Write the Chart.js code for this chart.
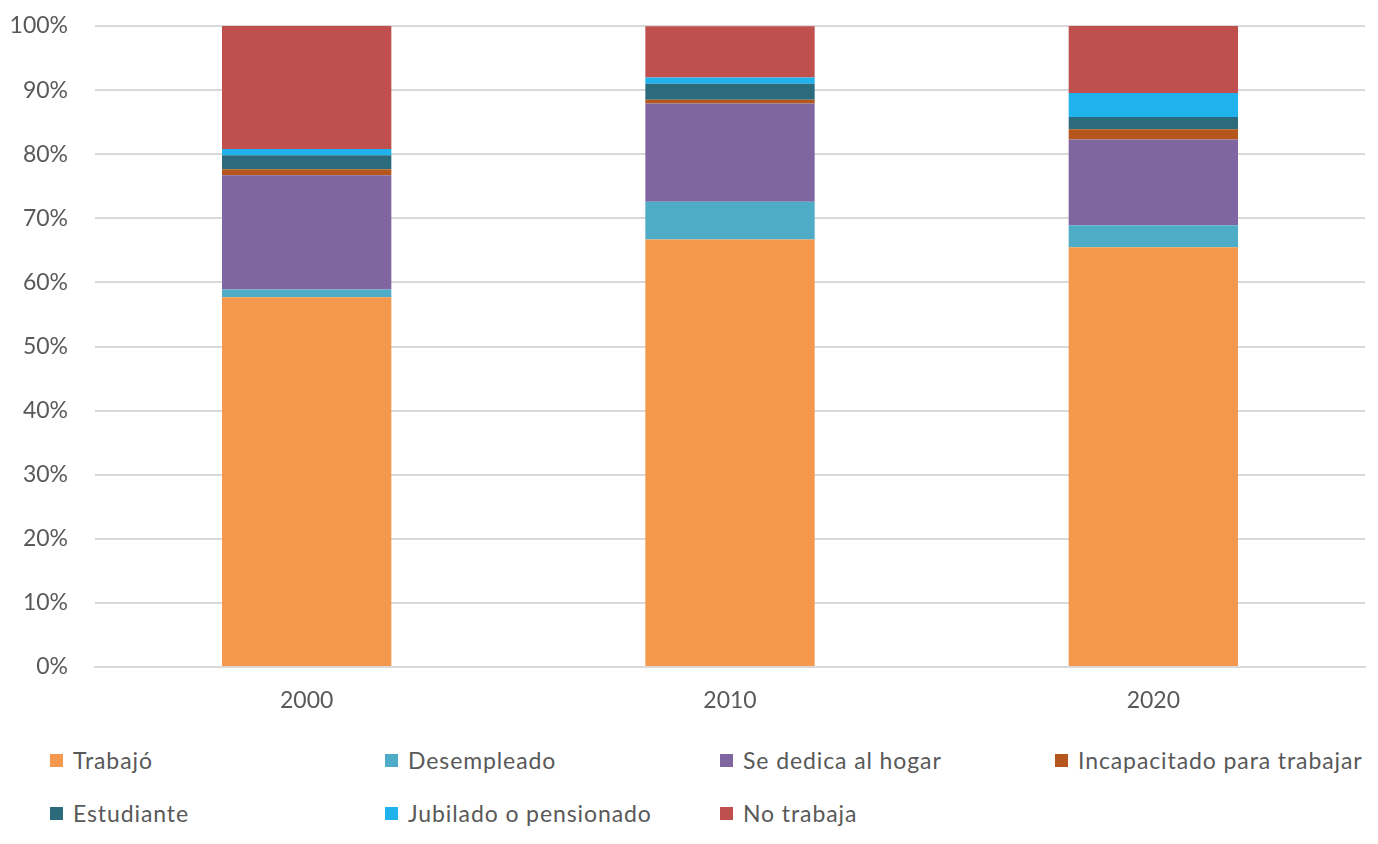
<!DOCTYPE html>
<html>
<head>
<meta charset="utf-8">
<script src="https://cdn.jsdelivr.net/npm/chart.js@4.4.0/dist/chart.umd.min.js"></script>
<style>
  html, body { margin: 0; padding: 0; background: #fff; }
  #wrap { position: absolute; left: 0; top: 0; width: 1378px; height: 731px; }
  #legend { position: absolute; left: 50px; top: 742px; width: 1340px;
    display: grid; grid-template-columns: 335px 335px 335px 335px; grid-auto-rows: 53px;
    font-family: Lato, 'Liberation Sans', sans-serif; font-size: 23px; letter-spacing: 0.9px; color: #595959; }
  .item { display: flex; align-items: center; height: 36px; white-space: nowrap; }
  .box { width: 13px; height: 13px; margin-right: 10px; flex: none; }
</style>
</head>
<body>
<div id="wrap"><canvas id="c"></canvas></div>
<div id="legend"></div>
<script>
const categories = ['2000', '2010', '2020'];
const seriesNames = ['Trabajó', 'Desempleado', 'Se dedica al hogar', 'Incapacitado para trabajar', 'Estudiante', 'Jubilado o pensionado', 'No trabaja'];
const trabajo      = [57.7, 66.7, 65.5];
const desempleado  = [1.2, 5.9, 3.4];
const hogar        = [17.8, 15.3, 13.4];
const incapacitado = [0.95, 0.6, 1.6];
const estudiante   = [2.2, 2.5, 1.9];
const jubilado     = [0.95, 0.95, 3.75];
const noTrabaja    = [19.2, 8.0, 10.5];
const seriesValues = [trabajo, desempleado, hogar, incapacitado, estudiante, jubilado, noTrabaja];
const colors = ['#F4984E', '#4FACC6', '#8066A1', '#B5571D', '#2B6B7C', '#20B2EC', '#C0504D'];

const datasets = seriesNames.map((n, i) => ({
  label: n,
  data: seriesValues[i],
  backgroundColor: colors[i],
  borderWidth: 0,
  barPercentage: 0.8,
  categoryPercentage: 0.5
}));

const font = { family: "Lato, 'Liberation Sans', sans-serif", size: 23 };
const chart = new Chart(document.getElementById('c'), {
  type: 'bar',
  data: { labels: categories, datasets },
  options: {
    responsive: true,
    maintainAspectRatio: false,
    animation: false,
    layout: { padding: { top: 26, right: 13, left: 0, bottom: 0 } },
    plugins: { legend: { display: false }, tooltip: { enabled: false } },
    scales: {
      x: {
        stacked: true,
        grid: { display: false, drawTicks: false },
        border: { display: true, color: '#d9d9d9', width: 2 },
        ticks: { color: '#595959', font, padding: 20 },
        afterFit: s => { s.height = 64; s.paddingLeft = 0; s.paddingRight = 0; }
      },
      y: {
        stacked: true,
        min: 0, max: 100,
        grid: { color: '#d9d9d9', lineWidth: 2, drawTicks: false },
        border: { display: false },
        ticks: { stepSize: 10, color: '#595959', font, padding: 27, callback: v => v + '%' },
        afterFit: s => { s.width = 95; s.paddingTop = 0; s.paddingBottom = 0; }
      }
    }
  }
});

const legend = document.getElementById('legend');
chart.data.datasets.forEach(ds => {
  const it = document.createElement('div');
  it.className = 'item';
  const b = document.createElement('span');
  b.className = 'box';
  b.style.background = ds.backgroundColor;
  const t = document.createElement('span');
  t.textContent = ds.label;
  it.appendChild(b); it.appendChild(t);
  legend.appendChild(it);
});
</script>
</body>
</html>
